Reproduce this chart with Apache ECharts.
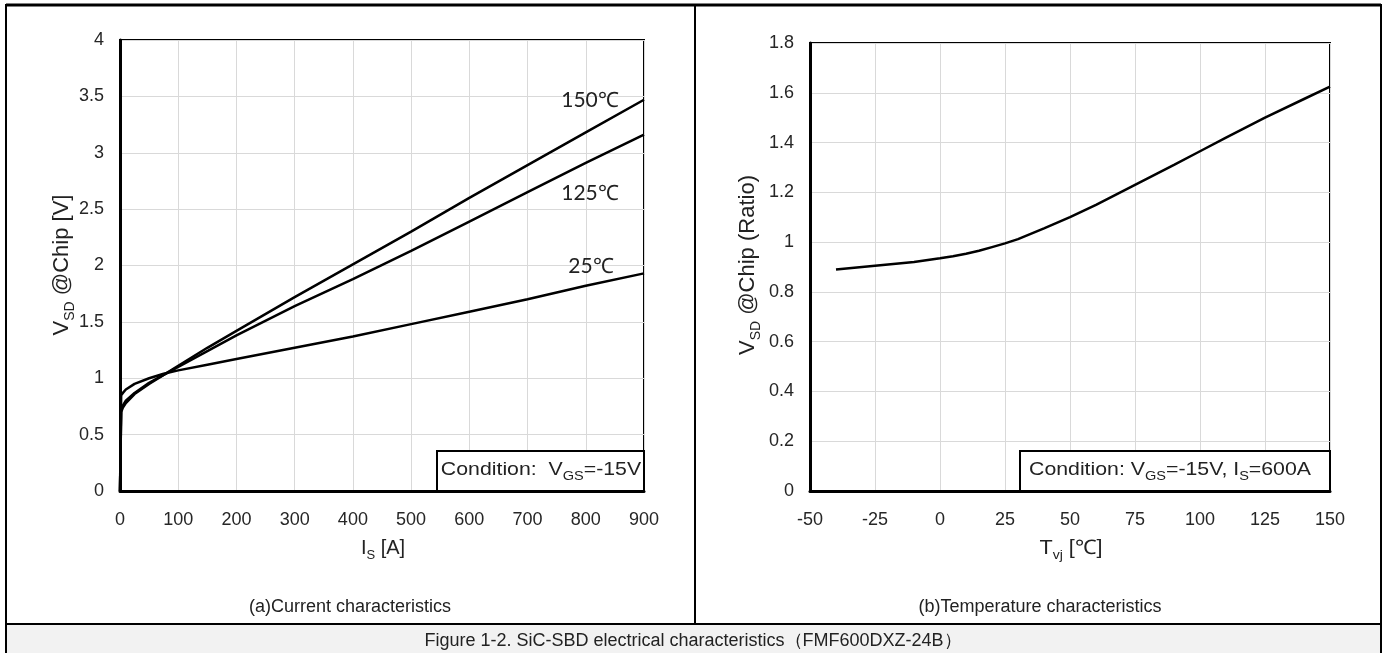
<!DOCTYPE html>
<html>
<head>
<meta charset="utf-8">
<script src="https://cdn.jsdelivr.net/npm/echarts@6/dist/echarts.min.js"></script>
<style>
html,body{margin:0;padding:0;background:#fff;}
#c{width:1386px;height:653px;}
</style>
</head>
<body>
<div id="c"></div>
<script>
// ---- data (a) current characteristics ----
const currentA = [0, 2, 5, 10, 25, 50, 75, 100, 150, 200, 300, 400, 500, 600, 700, 800, 900];
const vsd25C  = [0, 0.85, 0.87, 0.90, 0.95, 1.00, 1.04, 1.07, 1.12, 1.17, 1.27, 1.37, 1.48, 1.59, 1.70, 1.82, 1.93];
const vsd125C = [0, 0.72, 0.76, 0.80, 0.87, 0.96, 1.03, 1.10, 1.24, 1.38, 1.64, 1.88, 2.13, 2.39, 2.65, 2.91, 3.16];
const vsd150C = [0, 0.70, 0.74, 0.78, 0.86, 0.95, 1.03, 1.11, 1.27, 1.42, 1.72, 2.01, 2.30, 2.60, 2.89, 3.18, 3.47];
const curveLabels = ['25℃', '125℃', '150℃'];
// ---- data (b) temperature characteristics ----
const tvj   = [-40, -30, -20, -10, 0, 5, 10, 15, 20, 25, 30, 40, 50, 60, 75, 90, 100, 110, 125, 140, 150];
const ratio = [0.89, 0.90, 0.91, 0.92, 0.935, 0.943, 0.953, 0.965, 0.98, 0.995, 1.012, 1.055, 1.10, 1.15, 1.23, 1.31, 1.365, 1.42, 1.50, 1.575, 1.625];
// ---- axis ranges ----
const axA = {xMin: 0, xMax: 900, xStep: 100, yMin: 0, yMax: 4, yStep: 0.5};
const axB = {xMin: -50, xMax: 150, xStep: 25, yMin: 0, yMax: 1.8, yStep: 0.2};

const zip = (xs, ys) => xs.map((x, i) => [x, ys[i]]);
const FONT = '"Liberation Sans", Arial, sans-serif';
const lab = {color: '#262626', fontSize: 18, fontFamily: FONT};
const grid = {color: '#d9d9d9', width: 1};

function xAx(idx, a) {
  return {type: 'value', gridIndex: idx, min: a.xMin, max: a.xMax, interval: a.xStep,
    axisLine: {show: true, onZero: false, lineStyle: {color: '#000', width: 3}},
    axisTick: {show: false}, axisLabel: Object.assign({margin: 20}, lab),
    splitLine: {show: true, lineStyle: grid}};
}
function yAx(idx, a) {
  return {type: 'value', gridIndex: idx, min: a.yMin, max: a.yMax, interval: a.yStep,
    axisLine: {show: true, onZero: false, lineStyle: {color: '#000', width: 3}},
    axisTick: {show: false}, axisLabel: Object.assign({margin: 16}, lab),
    splitLine: {show: true, lineStyle: grid}};
}
const lineS = (xi, data) => ({type: 'line', xAxisIndex: xi, yAxisIndex: xi, data: data,
  showSymbol: false, smooth: false, lineStyle: {color: '#000', width: 2.5}, z: 5, silent: true});

const rich = {
  a: {fontSize: 20, fontFamily: FONT, color: '#222', lineHeight: 28},
  s: {fontSize: 13, fontFamily: FONT, color: '#222', lineHeight: 15, verticalAlign: 'bottom'},
  ya: {fontSize: 22, fontFamily: FONT, color: '#222', lineHeight: 30},
  ys: {fontSize: 14, fontFamily: FONT, color: '#222', lineHeight: 16, verticalAlign: 'bottom'},
  c: {fontSize: 19, fontFamily: FONT, color: '#222', lineHeight: 26},
  cs: {fontSize: 13, fontFamily: FONT, color: '#222', lineHeight: 14, verticalAlign: 'bottom'}
};
function txt(x, y, text, opt, rot, sx) {
  return {type: 'text', x: x, y: y, z: 40, silent: true, rotation: rot || 0, scaleX: sx || 1,
    style: Object.assign({text: text, rich: rich, align: 'center', verticalAlign: 'middle',
      fontFamily: FONT, fontSize: 18, fill: '#222'}, opt || {})};
}
function ln(x1, y1, x2, y2, w, col) {
  return {type: 'line', z: 30, silent: true, shape: {x1: x1, y1: y1, x2: x2, y2: y2},
    style: {stroke: col || '#000', lineWidth: w || 2}};
}

const chart = echarts.init(document.getElementById('c'));
chart.setOption({
  animation: false,
  grid: [
    {left: 120, top: 40, width: 524, height: 451, show: true, borderColor: '#000', borderWidth: 2, backgroundColor: 'transparent'},
    {left: 810, top: 43, width: 520, height: 448, show: true, borderColor: '#000', borderWidth: 2, backgroundColor: 'transparent'}
  ],
  xAxis: [xAx(0, axA), xAx(1, axB)],
  yAxis: [yAx(0, axA), yAx(1, axB)],
  series: [
    lineS(0, zip(currentA, vsd25C)),
    lineS(0, zip(currentA, vsd125C)),
    lineS(0, zip(currentA, vsd150C)),
    lineS(1, zip(tvj, ratio))
  ],
  graphic: [
    // outer frame
    {type: 'rect', z: 1, silent: true, shape: {x: 6, y: 624, width: 1375, height: 29}, style: {fill: '#f2f2f2'}},
    ln(6, 5, 1381, 5, 3),
    ln(6, 4, 6, 653, 2),
    ln(1381, 4, 1381, 653, 2),
    ln(695, 5, 695, 624, 2),
    ln(6, 624, 1381, 624, 2),
    // curve labels
    txt(590, 100, curveLabels[2], {fontFamily: 'Lato, sans-serif', fontSize: 21}),
    txt(590, 193, curveLabels[1], {fontFamily: 'Lato, sans-serif', fontSize: 21}),
    txt(591, 266, curveLabels[0], {fontFamily: 'Lato, sans-serif', fontSize: 21}),
    // condition boxes
    {type: 'rect', z: 25, silent: true, shape: {x: 437, y: 451, width: 207, height: 40}, style: {fill: '#fff', stroke: '#000', lineWidth: 2}},
    txt(541, 470, '{c|Condition:  V}{cs|GS}{c|=-15V}', {}, 0, 1.12),
    {type: 'rect', z: 25, silent: true, shape: {x: 1020, y: 451, width: 310, height: 40}, style: {fill: '#fff', stroke: '#000', lineWidth: 2}},
    txt(1170, 470, '{c|Condition: V}{cs|GS}{c|=-15V, I}{cs|S}{c|=600A}', {}, 0, 1.12),
    // axis names
    txt(62, 265, '{ya|V}{ys|SD}{ya| @Chip [V]}', {}, Math.PI / 2),
    txt(383, 548, '{a|I}{s|S}{a| [A]}'),
    txt(748, 265, '{ya|V}{ys|SD}{ya| @Chip (Ratio)}', {}, Math.PI / 2),
    txt(1071, 548, '{a|T}{s|vj}{a| [℃]}', {}, 0, 1.08),
    // subtitles & caption
    txt(350, 607, '(a)Current characteristics', {fontSize: 18}),
    txt(1040, 607, '(b)Temperature characteristics', {fontSize: 18}),
    txt(693, 641, 'Figure 1-2. SiC-SBD electrical characteristics（FMF600DXZ-24B）', {fontSize: 18})
  ]
});
</script>
</body>
</html>
